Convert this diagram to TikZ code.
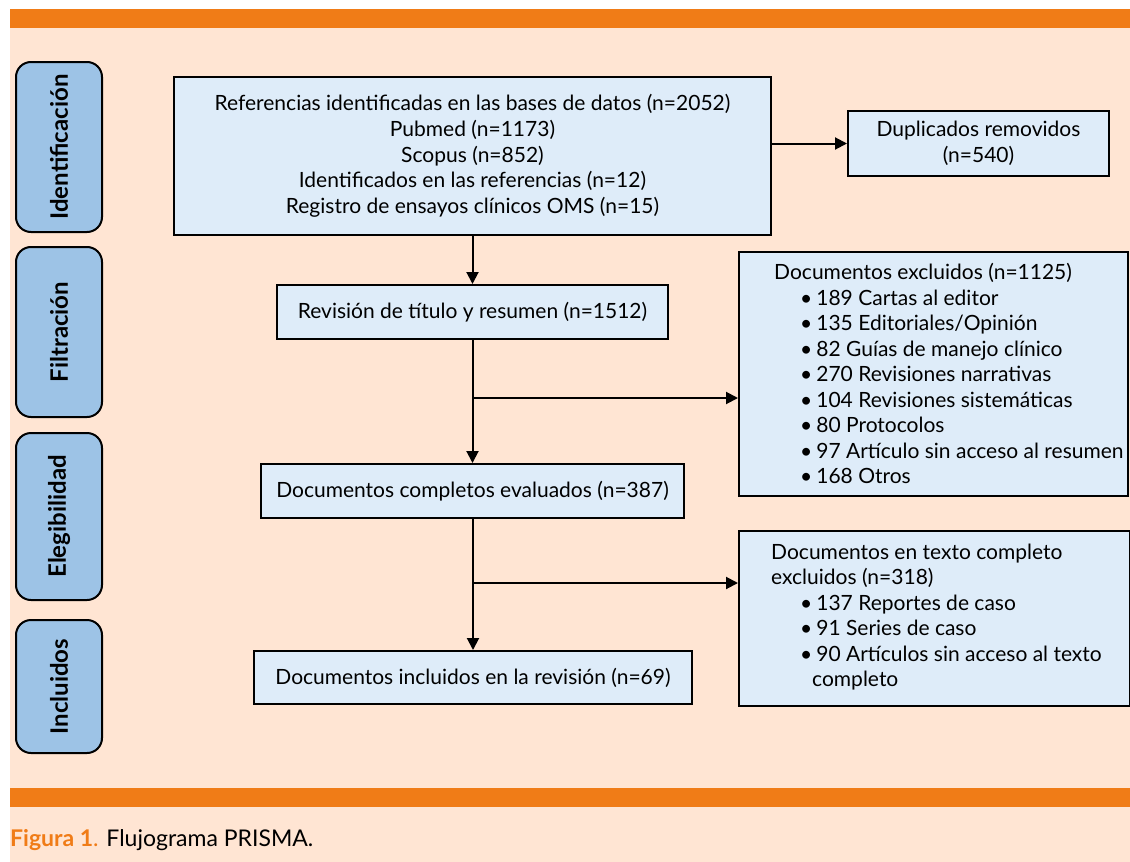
\documentclass[tikz,border=0pt]{standalone}
\usepackage{fontspec}
\setmainfont{Lato}
\usetikzlibrary{arrows.meta}
\definecolor{orangebar}{HTML}{F07C17}
\definecolor{cream}{HTML}{FFE5D3}
\definecolor{boxfill}{HTML}{DEECF9}
\definecolor{sidefill}{HTML}{9DC3E6}
\tikzset{
  box/.style={draw=black, line width=2pt, fill=boxfill, inner sep=0pt, align=center,
    font=\fontsize{21}{25.7}\selectfont},
  txt/.style={inner sep=0pt, align=left, anchor=west, font=\fontsize{21}{25.5}\selectfont},
  side/.style={draw=black, line width=2pt, fill=sidefill, rounded corners=15pt, rotate=90,
    minimum height=86pt, inner sep=0pt, font=\fontsize{24}{28}\selectfont\bfseries},
  arr/.style={line width=2pt, -{Triangle[width=12pt,length=12pt]}},
}
\begin{document}
\begin{tikzpicture}[x=1pt,y=-1pt]
\useasboundingbox (0,0) rectangle (1130,862);
\fill[white] (0,0) rectangle (1130,862);
\fill[cream] (10,9) rectangle (1130,862);
\fill[orangebar] (10,9) rectangle (1130,28);
\fill[orangebar] (10,788) rectangle (1130,807);

% side labels
\node[side, minimum width=170pt] (sid) at (59,147) {Identificación};
\node[side, minimum width=170pt] (sfi) at (59,332) {Filtración};
\node[side, minimum width=167pt] (sel) at (59,516.5) {Elegibilidad};
\node[side, minimum width=133pt] (sin) at (59,686.5) {Incluidos};

% main boxes
\node[box, minimum width=597pt, minimum height=158pt] (top) at (472.5,156)
  {Referencias identificadas en las bases de datos (n=2052)\\Pubmed (n=1173)\\Scopus (n=852)\\Identificados en las referencias (n=12)\\Registro de ensayos clínicos OMS (n=15)};
\node[box, minimum width=261pt, minimum height=65pt] (dup) at (978.5,143.5)
  {Duplicados removidos\\(n=540)};
\node[box, minimum width=391pt, minimum height=54pt] (rev) at (472.5,312)
  {Revisión de título y resumen (n=1512)};
\node[box, minimum width=423pt, minimum height=54pt] (comp) at (472.5,491)
  {Documentos completos evaluados (n=387)};
\node[box, minimum width=438pt, minimum height=53pt] (incl) at (473,677.5)
  {Documentos incluidos en la revisión (n=69)};

% exclusion boxes
\node[box, minimum width=389pt, minimum height=244pt] (exc1) at (933.5,374) {};
\node[txt] (exc1t) at (774,373.5) {Documentos excluidos (n=1125)\\
\hspace*{26pt}\textbullet\hspace{4pt}189 Cartas al editor\\
\hspace*{26pt}\textbullet\hspace{4pt}135 Editoriales/Opinión\\
\hspace*{26pt}\textbullet\hspace{4pt}82 Guías de manejo clínico\\
\hspace*{26pt}\textbullet\hspace{4pt}270 Revisiones narrativas\\
\hspace*{26pt}\textbullet\hspace{4pt}104 Revisiones sistemáticas\\
\hspace*{26pt}\textbullet\hspace{4pt}80 Protocolos\\
\hspace*{26pt}\textbullet\hspace{4pt}97 Artículo sin acceso al resumen\\
\hspace*{26pt}\textbullet\hspace{4pt}168 Otros};

\node[box, minimum width=391pt, minimum height=175pt] (exc2) at (934.5,618.5) {};
\node[txt] (exc2t) at (771,617) {Documentos en texto completo\\
excluidos (n=318)\\
\hspace*{29pt}\textbullet\hspace{4pt}137 Reportes de caso\\
\hspace*{29pt}\textbullet\hspace{4pt}91 Series de caso\\
\hspace*{29pt}\textbullet\hspace{4pt}90 Artículos sin acceso al texto\\
\hspace*{41pt}completo};

% connectors
\coordinate (b1) at (473,398);
\coordinate (b2) at (473,583);
\draw[arr] (top.south -| rev.north) -- (rev.north);
\draw[arr] (top.east |- dup.west) -- (dup.west);
\draw[arr] (rev.south) -- (comp.north);
\draw[arr] (b1) -- (b1 -| exc1.west);
\draw[arr] (comp.south -| incl.north) -- (incl.north);
\draw[arr] (b2) -- (b2 -| exc2.west);

% caption
\node[inner sep=0pt, anchor=base west, font=\fontsize{23}{27}\selectfont] (cap) at (10,846)
  {\textcolor{orangebar}{\textbf{Figura 1}.} Flujograma PRISMA.};
\end{tikzpicture}
\end{document}
